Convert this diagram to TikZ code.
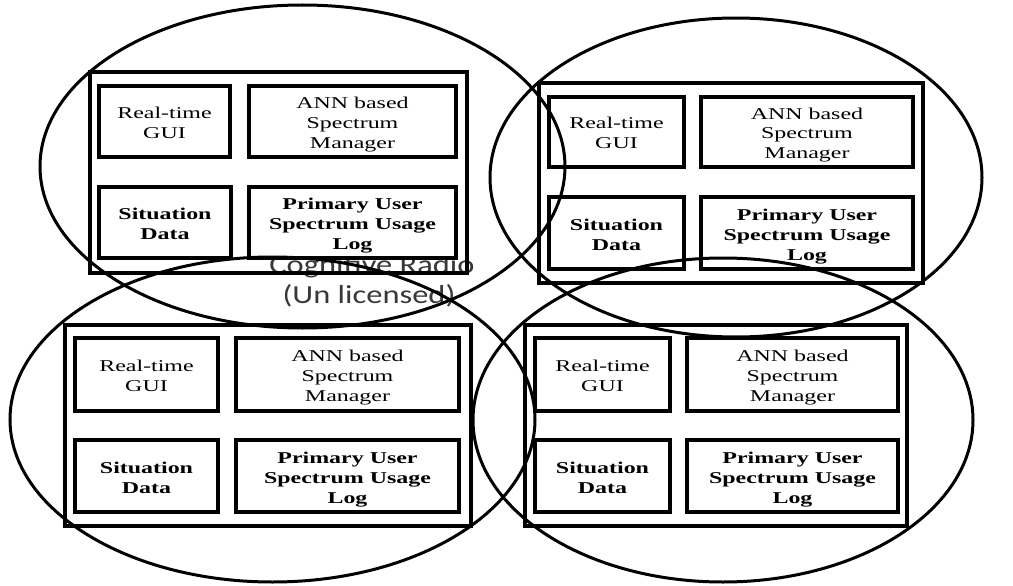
\documentclass[tikz,border=0pt]{standalone}
\usepackage{graphicx}
\usepackage{fontspec}
\setmainfont{Liberation Serif}
\newfontfamily\crsans{Carlito}
% wide, stretched lettering of the part labels, set a little low in its box
\newcommand\widelabel[1]{\raisebox{-3pt}[\height][\depth]{\scalebox{1.45}[1]{\begin{tabular}{@{}c@{}}#1\end{tabular}}}}
\newcommand\widecr[1]{\scalebox{1.25}[1]{#1}}
\begin{document}
\begin{tikzpicture}[x=1pt,y=-1pt,
  outerbox/.style={draw,line width=3.5pt},
  part/.style={draw,line width=4.5pt,fill=white,rectangle,inner sep=0pt,
    align=center,font=\fontsize{16.5}{20}\selectfont},
  boldpart/.style={part,font=\bfseries\fontsize{16.5}{20}\selectfont},
  cell/.style={draw,line width=3pt},
  crlabel/.style={anchor=base,inner sep=0pt,text=black!78,
    font=\crsans\fontsize{26}{30}\selectfont}]
\useasboundingbox (0,0) rectangle (1013,586);

% network label, partly covered by the first node's boxes
\node[crlabel] (cr1) at (372,273) {\widecr{Cognitive Radio}};
\node[crlabel] (cr2) at (369,303) {\widecr{(Un licensed)}};

% ---- radio node, top left
\draw[outerbox] (90,72) rectangle (467,273);
\node[part,minimum width=131pt,minimum height=71pt] (gui1) at (164.5,121.5) {\widelabel{Real-time\\GUI}};
\node[part,minimum width=207pt,minimum height=71pt] (ann1) at (352.5,121.5) {\widelabel{ANN based\\Spectrum\\Manager}};
\node[boldpart,minimum width=132pt,minimum height=71pt] (sit1) at (165,222.5) {\widelabel{Situation\\Data}};
\node[boldpart,minimum width=207pt,minimum height=71pt] (log1) at (352.5,222.5) {\widelabel{Primary User\\Spectrum Usage\\Log}};

% ---- radio node, top right
\draw[outerbox] (539,83) rectangle (923,283);
\node[part,minimum width=135pt,minimum height=70pt] (gui2) at (616.5,132) {\widelabel{Real-time\\GUI}};
\node[part,minimum width=212pt,minimum height=70pt] (ann2) at (807,132) {\widelabel{ANN based\\Spectrum\\Manager}};
\node[boldpart,minimum width=135pt,minimum height=72pt] (sit2) at (616.5,233) {\widelabel{Situation\\Data}};
\node[boldpart,minimum width=212pt,minimum height=72pt] (log2) at (807,233) {\widelabel{Primary User\\Spectrum Usage\\Log}};

% ---- radio node, bottom left
\draw[outerbox] (65,325) rectangle (471,526);
\node[part,minimum width=143pt,minimum height=73pt] (gui3) at (146.5,374.5) {\widelabel{Real-time\\GUI}};
\node[part,minimum width=223pt,minimum height=73pt] (ann3) at (347.5,374.5) {\widelabel{ANN based\\Spectrum\\Manager}};
\node[boldpart,minimum width=143pt,minimum height=72pt] (sit3) at (146.5,476) {\widelabel{Situation\\Data}};
\node[boldpart,minimum width=223pt,minimum height=72pt] (log3) at (347.5,476) {\widelabel{Primary User\\Spectrum Usage\\Log}};

% ---- radio node, bottom right
\draw[outerbox] (525,325) rectangle (907,526);
\node[part,minimum width=135pt,minimum height=73pt] (gui4) at (602.5,374.5) {\widelabel{Real-time\\GUI}};
\node[part,minimum width=211pt,minimum height=73pt] (ann4) at (792.5,374.5) {\widelabel{ANN based\\Spectrum\\Manager}};
\node[boldpart,minimum width=135pt,minimum height=72pt] (sit4) at (602.5,476) {\widelabel{Situation\\Data}};
\node[boldpart,minimum width=211pt,minimum height=72pt] (log4) at (792.5,476) {\widelabel{Primary User\\Spectrum Usage\\Log}};

% ---- coverage cells
\draw[cell] (302.5,166.5) ellipse [x radius=262.5pt, y radius=161.5pt];
\draw[cell] (736,177.5) ellipse [x radius=246pt, y radius=159.5pt];
\draw[cell] (272.5,419.5) ellipse [x radius=262.5pt, y radius=162.5pt];
\draw[cell] (723,420) ellipse [x radius=250pt, y radius=162pt];
\end{tikzpicture}
\end{document}
